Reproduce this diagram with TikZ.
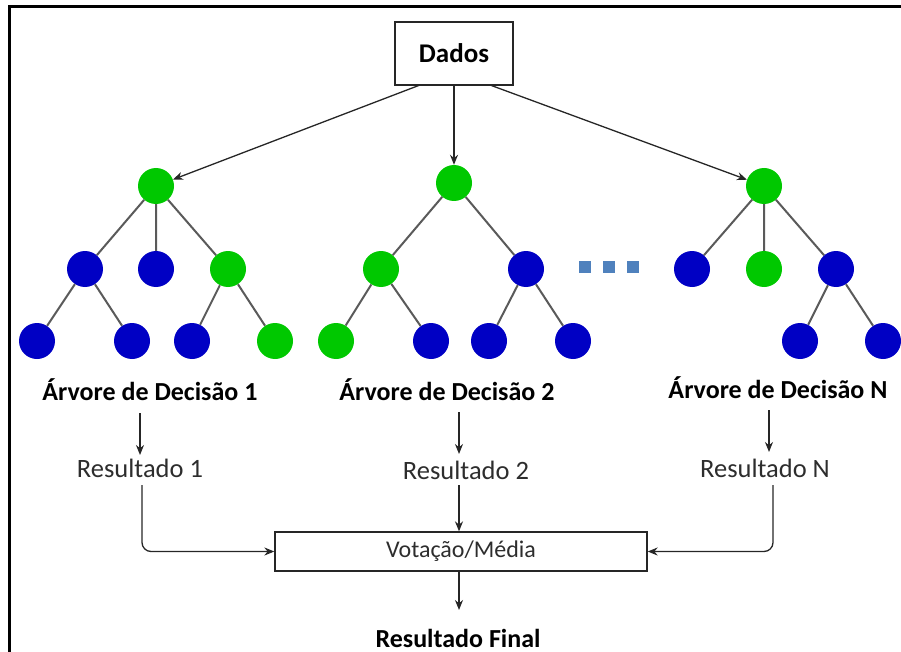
\documentclass[tikz,border=0pt]{standalone}
\usepackage{fontspec}
\setmainfont{Carlito}
\usetikzlibrary{arrows.meta}
\definecolor{leafgreen}{RGB}{0,200,0}
\definecolor{leafblue}{RGB}{0,0,196}
\definecolor{dotblue}{RGB}{79,129,189}
\definecolor{edgegray}{RGB}{90,90,90}
\definecolor{txtgray}{RGB}{45,45,45}
\tikzset{
  gnode/.style={circle,fill=leafgreen,minimum size=36pt,inner sep=0pt},
  bnode/.style={circle,fill=leafblue,minimum size=36pt,inner sep=0pt},
  tedge/.style={draw=edgegray,line width=2pt},
  flow/.style={draw=black!85,line width=1.3pt,-{Stealth[length=10pt,width=8pt]}},
  title/.style={font=\fontsize{26}{30}\selectfont\bfseries,inner sep=0pt},
  result/.style={font=\fontsize{26.5}{30}\selectfont,text=txtgray,inner sep=0pt},
  dot/.style={fill=dotblue,minimum size=12pt,inner sep=0pt}
}
\begin{document}
\begin{tikzpicture}[x=1pt,y=-1pt]
\useasboundingbox (0,0) rectangle (901,652);
% frame
\draw[line width=3pt] (9,652) -- (9,7) -- (901,7);

% data box
\node[draw=black!85,line width=1.3pt,minimum width=118pt,minimum height=63pt,
      font=\fontsize{27}{30}\selectfont\bfseries] (dados) at (454,53.5) {Dados};

% tree 1
\node[gnode] (t1r) at (156,186) {};
\node[bnode] (t1a) at (85,269) {};
\node[bnode] (t1b) at (156,269) {};
\node[gnode] (t1c) at (228,269) {};
\node[bnode] (t1aa) at (37,341) {};
\node[bnode] (t1ab) at (132,341) {};
\node[bnode] (t1ca) at (192,341) {};
\node[gnode] (t1cb) at (275,341) {};
\draw[tedge] (t1r) -- (t1a) (t1r) -- (t1b) (t1r) -- (t1c)
  (t1a) -- (t1aa) (t1a) -- (t1ab) (t1c) -- (t1ca) (t1c) -- (t1cb);

% tree 2
\node[gnode] (t2r) at (454,183) {};
\node[gnode] (t2a) at (381,269) {};
\node[bnode] (t2b) at (526,269) {};
\node[gnode] (t2aa) at (336,341) {};
\node[bnode] (t2ab) at (431,341) {};
\node[bnode] (t2ba) at (489,341) {};
\node[bnode] (t2bb) at (573,341) {};
\draw[tedge] (t2r) -- (t2a) (t2r) -- (t2b)
  (t2a) -- (t2aa) (t2a) -- (t2ab) (t2b) -- (t2ba) (t2b) -- (t2bb);

% tree N
\node[gnode] (t3r) at (764,186) {};
\node[bnode] (t3a) at (692,269) {};
\node[gnode] (t3b) at (764,269) {};
\node[bnode] (t3c) at (836,269) {};
\node[bnode] (t3ca) at (800,341) {};
\node[bnode] (t3cb) at (883,341) {};
\draw[tedge] (t3r) -- (t3a) (t3r) -- (t3b) (t3r) -- (t3c)
  (t3c) -- (t3ca) (t3c) -- (t3cb);

% ellipsis between trees
\node[dot] (d1) at (585,267) {};
\node[dot] (d2) at (609,267) {};
\node[dot] (d3) at (633,267) {};

% data to each tree
\coordinate (o1) at (420,85);
\coordinate (o3) at (490,85);
\draw[flow] (o1) -- (t1r);
\draw[flow] (dados) -- (t2r);
\draw[flow] (o3) -- (t3r);

% tree titles
\node[title] (n1) at (150,390) {Árvore de Decisão 1};
\node[title] (n2) at (447,390) {Árvore de Decisão 2};
\node[title] (n3) at (778,388) {Árvore de Decisão N};

% results
\node[result] (r1) at (140,468) {Resultado 1};
\node[result] (r2) at (466,470) {Resultado 2};
\node[result] (r3) at (765,468) {Resultado N};

\coordinate (a1s) at (140,413); \coordinate (a1e) at (140,455);
\coordinate (a2s) at (459,412); \coordinate (a2e) at (459,454);
\coordinate (a3s) at (769,410); \coordinate (a3e) at (769,452);
\draw[flow] (a1s) -- (a1e);
\draw[flow] (a2s) -- (a2e);
\draw[flow] (a3s) -- (a3e);

% voting box
\node[draw=black!85,line width=1.3pt,minimum width=372pt,minimum height=39pt,
      font=\fontsize{24}{28}\selectfont,text=txtgray] (vote) at (461,551.5) {Votação/Média};

\coordinate (c1) at (142,485);
\coordinate (c2) at (459,485);
\coordinate (c3) at (773,485);
\draw[flow,rounded corners=9pt] (c1) |- (vote.west);
\draw[flow] (c2) -- (c2 |- vote.north);
\draw[flow,rounded corners=9pt] (c3) |- (vote.east);

% final result
\node[font=\fontsize{26}{30}\selectfont\bfseries,inner sep=0pt] (final) at (458,638) {Resultado Final};
\coordinate (fs) at (459,571);
\coordinate (fe) at (459,610);
\draw[flow] (fs) -- (fe);
\end{tikzpicture}
\end{document}
